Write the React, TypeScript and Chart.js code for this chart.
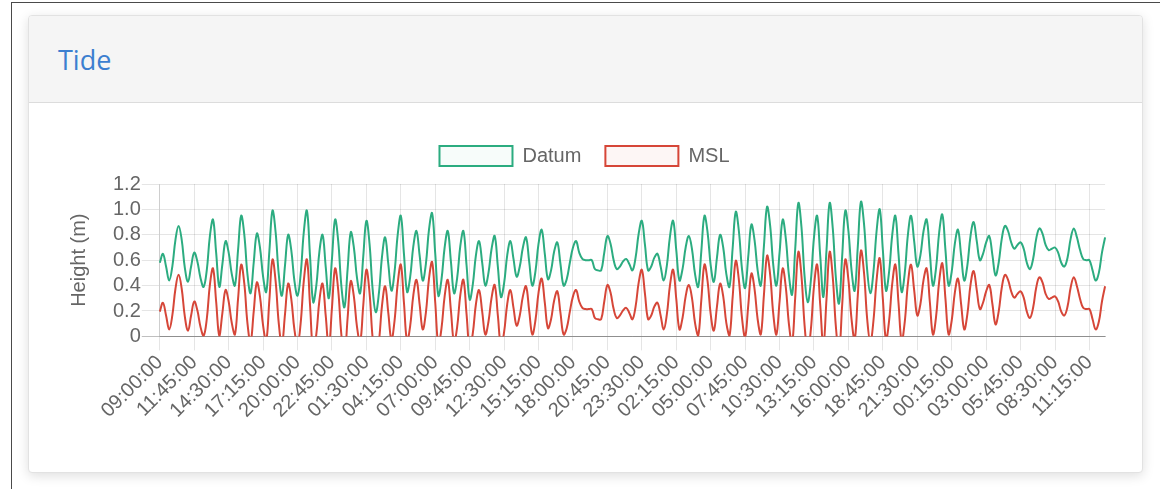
import React, { useEffect, useRef } from 'react';
import { Chart, registerables } from 'chart.js';

Chart.register(...registerables);

// ---- data ----
const START_TIME = '09:00:00';
const STEP_MINUTES = 15;

const DATUM: number[] = [
  0.58, 0.65, 0.55, 0.44, 0.55, 0.76, 0.87, 0.76, 0.54, 0.43,
  0.55, 0.66, 0.59, 0.46, 0.39, 0.52, 0.79, 0.92, 0.66, 0.39,
  0.57, 0.75, 0.66, 0.49, 0.40, 0.68, 0.95, 0.80, 0.49, 0.34,
  0.58, 0.81, 0.70, 0.47, 0.35, 0.67, 0.99, 0.82, 0.49, 0.32,
  0.56, 0.80, 0.68, 0.44, 0.32, 0.49, 0.82, 0.99, 0.63, 0.27,
  0.40, 0.67, 0.80, 0.55, 0.30, 0.61, 0.92, 0.75, 0.40, 0.23,
  0.53, 0.82, 0.70, 0.46, 0.34, 0.63, 0.91, 0.73, 0.37, 0.19,
  0.34, 0.63, 0.78, 0.57, 0.36, 0.51, 0.80, 0.95, 0.65, 0.35,
  0.47, 0.71, 0.83, 0.64, 0.44, 0.57, 0.84, 0.97, 0.65, 0.32,
  0.45, 0.70, 0.83, 0.59, 0.34, 0.46, 0.71, 0.83, 0.56, 0.29,
  0.41, 0.64, 0.75, 0.58, 0.40, 0.50, 0.69, 0.79, 0.55, 0.31,
  0.42, 0.64, 0.75, 0.61, 0.47, 0.55, 0.70, 0.78, 0.59, 0.40,
  0.51, 0.73, 0.84, 0.65, 0.45, 0.52, 0.67, 0.74, 0.57, 0.40,
  0.45, 0.58, 0.70, 0.75, 0.66, 0.61, 0.60, 0.60, 0.60, 0.53,
  0.52, 0.52, 0.66, 0.79, 0.73, 0.60, 0.53, 0.55, 0.59, 0.61,
  0.57, 0.52, 0.62, 0.81, 0.91, 0.72, 0.52, 0.55, 0.62, 0.65,
  0.55, 0.44, 0.56, 0.79, 0.91, 0.68, 0.44, 0.53, 0.70, 0.79,
  0.69, 0.49, 0.39, 0.67, 0.95, 0.82, 0.56, 0.43, 0.62, 0.80,
  0.70, 0.49, 0.39, 0.69, 0.98, 0.83, 0.53, 0.38, 0.63, 0.88,
  0.76, 0.52, 0.40, 0.71, 1.02, 0.87, 0.56, 0.40, 0.66, 0.92,
  0.77, 0.48, 0.33, 0.69, 1.05, 0.86, 0.47, 0.27, 0.44, 0.78,
  0.95, 0.63, 0.31, 0.68, 1.05, 0.85, 0.46, 0.26, 0.63, 0.99,
  0.83, 0.52, 0.36, 0.71, 1.06, 0.88, 0.52, 0.34, 0.51, 0.83,
  1.00, 0.68, 0.36, 0.51, 0.80, 0.95, 0.65, 0.35, 0.50, 0.80,
  0.95, 0.75, 0.55, 0.64, 0.83, 0.92, 0.66, 0.40, 0.54, 0.82,
  0.96, 0.68, 0.40, 0.51, 0.73, 0.84, 0.64, 0.44, 0.56, 0.79,
  0.90, 0.75, 0.60, 0.65, 0.74, 0.79, 0.64, 0.48, 0.58, 0.77,
  0.87, 0.83, 0.74, 0.69, 0.72, 0.74, 0.69, 0.58, 0.53, 0.61,
  0.77, 0.85, 0.81, 0.72, 0.68, 0.69, 0.70, 0.66, 0.58, 0.55,
  0.62, 0.77, 0.85, 0.78, 0.68, 0.61, 0.60, 0.60, 0.52, 0.44,
  0.50, 0.66, 0.78,
];

const MSL: number[] = [
  0.195, 0.265, 0.165, 0.055, 0.165, 0.375, 0.485, 0.375, 0.155, 0.045,
  0.165, 0.275, 0.205, 0.075, 0.005, 0.135, 0.405, 0.535, 0.275, 0.005,
  0.185, 0.365, 0.275, 0.105, 0.015, 0.295, 0.565, 0.415, 0.105, -0.045,
  0.195, 0.425, 0.315, 0.085, -0.035, 0.285, 0.605, 0.435, 0.105, -0.065,
  0.175, 0.415, 0.295, 0.055, -0.065, 0.105, 0.435, 0.605, 0.245, -0.115,
  0.015, 0.285, 0.415, 0.165, -0.085, 0.225, 0.535, 0.365, 0.015, -0.155,
  0.145, 0.435, 0.315, 0.075, -0.045, 0.245, 0.525, 0.345, -0.015, -0.195,
  -0.045, 0.245, 0.395, 0.185, -0.025, 0.125, 0.415, 0.565, 0.265, -0.035,
  0.085, 0.325, 0.445, 0.255, 0.055, 0.185, 0.455, 0.585, 0.265, -0.065,
  0.065, 0.315, 0.445, 0.205, -0.045, 0.075, 0.325, 0.445, 0.175, -0.095,
  0.025, 0.255, 0.365, 0.195, 0.015, 0.115, 0.305, 0.405, 0.165, -0.075,
  0.035, 0.255, 0.365, 0.225, 0.085, 0.165, 0.315, 0.395, 0.205, 0.015,
  0.125, 0.345, 0.455, 0.265, 0.065, 0.135, 0.285, 0.355, 0.185, 0.015,
  0.065, 0.195, 0.315, 0.365, 0.275, 0.225, 0.215, 0.215, 0.215, 0.145,
  0.135, 0.135, 0.275, 0.405, 0.345, 0.215, 0.145, 0.165, 0.205, 0.225,
  0.185, 0.135, 0.235, 0.425, 0.525, 0.335, 0.135, 0.165, 0.235, 0.265,
  0.165, 0.055, 0.175, 0.405, 0.525, 0.295, 0.055, 0.145, 0.315, 0.405,
  0.305, 0.105, 0.005, 0.285, 0.565, 0.435, 0.175, 0.045, 0.235, 0.415,
  0.315, 0.105, 0.005, 0.305, 0.595, 0.445, 0.145, -0.005, 0.245, 0.495,
  0.375, 0.135, 0.015, 0.325, 0.635, 0.485, 0.175, 0.015, 0.275, 0.535,
  0.385, 0.095, -0.055, 0.305, 0.665, 0.475, 0.085, -0.115, 0.055, 0.395,
  0.565, 0.245, -0.075, 0.295, 0.665, 0.465, 0.075, -0.125, 0.245, 0.605,
  0.445, 0.135, -0.025, 0.325, 0.675, 0.495, 0.135, -0.045, 0.125, 0.445,
  0.615, 0.295, -0.025, 0.125, 0.415, 0.565, 0.265, -0.035, 0.115, 0.415,
  0.565, 0.365, 0.165, 0.255, 0.445, 0.535, 0.275, 0.015, 0.155, 0.435,
  0.575, 0.295, 0.015, 0.125, 0.345, 0.455, 0.255, 0.055, 0.175, 0.405,
  0.515, 0.365, 0.215, 0.265, 0.355, 0.405, 0.255, 0.095, 0.195, 0.385,
  0.485, 0.445, 0.355, 0.305, 0.335, 0.355, 0.305, 0.195, 0.145, 0.225,
  0.385, 0.465, 0.425, 0.335, 0.295, 0.305, 0.315, 0.275, 0.195, 0.165,
  0.235, 0.385, 0.465, 0.395, 0.295, 0.225, 0.215, 0.215, 0.135, 0.055,
  0.115, 0.275, 0.395,
];

const Y_MIN = 0;
const Y_MAX = 1.2;
const Y_STEP = 0.2;

const SERIES_NAMES = ['Datum', 'MSL'];
const Y_TITLE = 'Height (m)';
const CARD_TITLE = 'Tide';

function pad2(n: number): string {
  return n < 10 ? '0' + n : String(n);
}

function buildTimeLabels(start: string, stepMin: number, count: number): string[] {
  const [h, m, s] = start.split(':').map(Number);
  const base = h * 60 + m;
  const out: string[] = [];
  for (let i = 0; i < count; i++) {
    const t = (base + i * stepMin) % 1440;
    out.push(`${pad2(Math.floor(t / 60))}:${pad2(t % 60)}:${pad2(s)}`);
  }
  return out;
}

const LABELS = buildTimeLabels(START_TIME, STEP_MINUTES, DATUM.length);

const FONT = "Arial, 'Liberation Sans', Helvetica, sans-serif";
const TEXT = '#666';
const LEGEND_EXTRA = 8;

const legendSpacer = {
  id: 'legendSpacer',
  beforeLayout(chart: any) {
    const lg = chart.legend;
    if (lg && !lg.__spaced) {
      const fit = lg.fit;
      lg.fit = function (this: any) {
        fit.call(this);
        this.height += LEGEND_EXTRA;
      };
      lg.__spaced = true;
    }
  },
};

function TideChart() {
  const ref = useRef<HTMLCanvasElement | null>(null);
  useEffect(() => {
    if (!ref.current) return;
    const chart = new Chart(ref.current, {
      type: 'line',
      data: {
        labels: LABELS,
        datasets: [
          {
            label: SERIES_NAMES[0],
            data: DATUM,
            borderColor: 'rgb(44,172,128)',
            backgroundColor: 'rgba(44,172,128,0.04)',
            borderWidth: 2,
            fill: false,
            tension: 0.4,
            pointRadius: 0,
          },
          {
            label: SERIES_NAMES[1],
            data: MSL,
            borderColor: 'rgb(214,70,56)',
            backgroundColor: 'rgba(214,70,56,0.05)',
            borderWidth: 2,
            fill: false,
            tension: 0.4,
            pointRadius: 0,
          },
        ],
      },
      options: {
        animation: false,
        responsive: false,
        devicePixelRatio: 1,
        layout: { padding: 0 },
        plugins: {
          legend: {
            position: 'top',
            labels: {
              boxWidth: 73,
              boxHeight: 20,
              padding: 24,
              color: TEXT,
              font: { family: FONT, size: 20 },
            },
          },
          tooltip: { enabled: false },
        },
        scales: {
          x: {
            grid: { color: 'rgba(0,0,0,0.1)', tickLength: 14 },
            border: { color: 'rgba(0,0,0,0.25)' },
            ticks: {
              color: TEXT,
              font: { family: FONT, size: 20, lineHeight: 1.1 },
              minRotation: 45,
              maxRotation: 45,
              autoSkip: true,
              autoSkipPadding: 0,
              maxTicksLimit: 28,
              padding: 1,
            },
          },
          y: {
            min: Y_MIN,
            max: Y_MAX,
            grid: {
              color: (ctx: any) =>
                ctx.tick && Math.abs(ctx.tick.value) < 1e-9 ? 'rgba(0,0,0,0.25)' : 'rgba(0,0,0,0.1)',
              tickLength: 18,
            },
            border: { color: 'rgba(0,0,0,0.1)' },
            ticks: {
              stepSize: Y_STEP,
              autoSkip: false,
              color: TEXT,
              font: { family: FONT, size: 20 },
              padding: 1,
              callback: (v: any) => (Math.abs(Number(v)) < 1e-9 ? '0' : Number(v).toFixed(1)),
            },
            title: {
              display: true,
              text: Y_TITLE,
              color: TEXT,
              font: { family: FONT, size: 20 },
              padding: { top: 4, bottom: 21 },
            },
          },
        },
      },
      plugins: [legendSpacer],
    } as any);
    return () => chart.destroy();
  }, []);
  return (
    <canvas
      ref={ref}
      width={1043}
      height={301}
      style={{ position: 'absolute', left: 62 - 28, top: 121 - 15, width: 1043, height: 301 }}
    />
  );
}

export default function App() {
  return (
    <div
      style={{
        position: 'fixed',
        left: 0,
        top: 0,
        width: 1160,
        height: 489,
        background: '#fff',
        overflow: 'hidden',
        fontFamily: "'Open Sans', 'Segoe UI', Arial, sans-serif",
      }}
    >
      <div
        style={{
          position: 'absolute',
          left: 11,
          top: 2,
          width: 1300,
          height: 700,
          borderLeft: '1px solid #4a4a4a',
          borderTop: '1px solid #4a4a4a',
        }}
      />
      <div
        style={{
          position: 'absolute',
          left: 28,
          top: 15,
          width: 1115,
          height: 458,
          boxSizing: 'border-box',
          border: '1px solid #e2e2e2',
          borderRadius: 4,
          background: '#fff',
          boxShadow: '0 3px 12px rgba(0,0,0,0.13)',
        }}
      >
        <div
          style={{
            position: 'absolute',
            left: 0,
            top: 0,
            right: 0,
            height: 87,
            boxSizing: 'border-box',
            background: '#f5f5f5',
            borderBottom: '1px solid #dcdcdc',
            borderTopLeftRadius: 3,
            borderTopRightRadius: 3,
          }}
        >
          <div
            style={{
              position: 'absolute',
              left: 29,
              top: 30,
              fontSize: 27,
              lineHeight: '27px',
              color: '#3c7fd0',
              whiteSpace: 'nowrap',
            }}
          >
            {CARD_TITLE}
          </div>
        </div>
        <TideChart />
      </div>
    </div>
  );
}
